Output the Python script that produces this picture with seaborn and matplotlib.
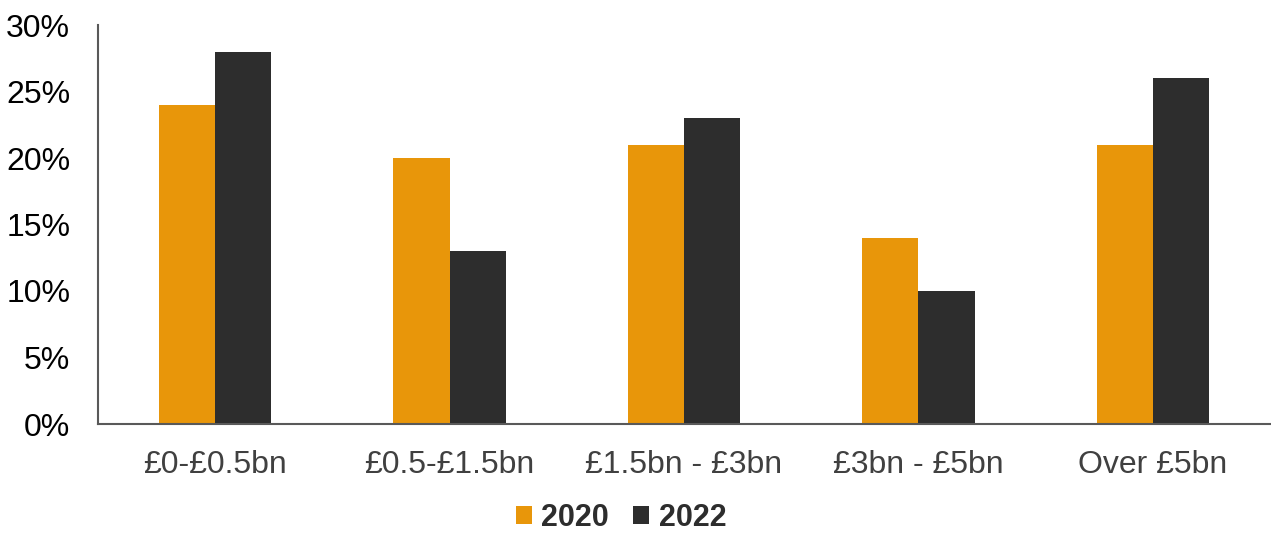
import matplotlib
matplotlib.use("Agg")
import matplotlib.pyplot as plt
import seaborn as sns
import pandas as pd
from matplotlib.ticker import FuncFormatter
from matplotlib.patches import Patch

categories = ["£0-£0.5bn", "£0.5-£1.5bn", "£1.5bn - £3bn", "£3bn - £5bn", "Over £5bn"]
years = ["2020", "2022"]
values_2020 = [24, 20, 21, 14, 21]
values_2022 = [28, 13, 23, 10, 26]
colors = {"2020": "#E8960A", "2022": "#2D2D2D"}

df = pd.DataFrame({
    "band": categories * 2,
    "year": ["2020"] * len(categories) + ["2022"] * len(categories),
    "share": values_2020 + values_2022,
})

sns.set_theme(style="white")
plt.rcParams["font.family"] = ["Liberation Sans", "DejaVu Sans"]

fig = plt.figure(figsize=(12.71, 5.33), dpi=100)
ax = fig.add_axes([98 / 1271, 1 - 424 / 533, 1172 / 1271, 399 / 533])

sns.barplot(data=df, x="band", y="share", hue="year", hue_order=years,
            palette=colors, width=0.48, saturation=1, linewidth=0,
            ax=ax, legend=False)

ax.set_ylim(0, 30)
ax.set_xlim(-0.5, len(categories) - 0.5)
ax.set_yticks(range(0, 31, 5))
ax.yaxis.set_major_formatter(FuncFormatter(lambda v, p: f"{int(v)}%"))
ax.set_xlabel("")
ax.set_ylabel("")
ax.tick_params(axis="y", length=0, pad=20, labelsize=23, labelcolor="#000000")
ax.tick_params(axis="x", length=0, pad=19, labelsize=23, labelcolor="#404040")

for side in ["top", "right"]:
    ax.spines[side].set_visible(False)
for side in ["left", "bottom"]:
    ax.spines[side].set_color("#595959")
    ax.spines[side].set_linewidth(1.5)

handles = [Patch(facecolor=colors[y], edgecolor="none", label=y) for y in years]
leg = fig.legend(handles=handles, loc="center", bbox_to_anchor=(621 / 1271, 1 - 518 / 533),
                 ncol=2, frameon=False, handlelength=0.53, handleheight=0.53,
                 handletextpad=0.3, columnspacing=0.8, borderpad=0.1,
                 prop={"weight": "bold", "size": 22})
for t in leg.get_texts():
    t.set_color("#2D2D2D")

fig.savefig("out.png", dpi=100)
